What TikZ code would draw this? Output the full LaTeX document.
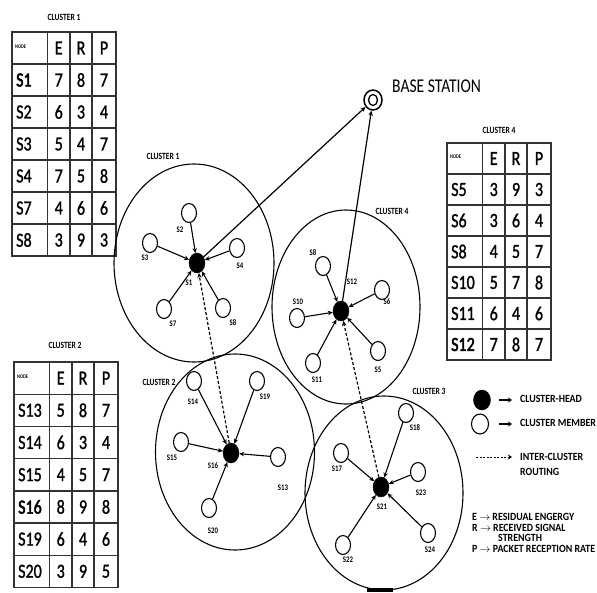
\documentclass[tikz,border=0pt]{standalone}
\usepackage{fontspec}
\setmainfont{Carlito}[FakeStretch=0.8]
\newfontfamily\legfont{Carlito}[FakeStretch=0.9]
\newfontfamily\cellfont{Carlito}[FakeStretch=0.8, FakeBold=1.2]
\newfontfamily\cellbold{Carlito}[FakeStretch=0.8, FakeBold=2.5]
\usetikzlibrary{shapes.geometric,arrows.meta}

\tikzset{
  tline/.style={line width=1.4pt, black!80},
  member/.style={ellipse, draw, line width=1.1pt, minimum width=15pt, minimum height=19pt, inner sep=0pt, fill=white},
  head/.style={ellipse, fill=black, draw, minimum width=16pt, minimum height=20pt, inner sep=0pt},
  lab/.style={font=\fontsize{8.5}{9}\selectfont\bfseries, inner sep=0pt},
  clab/.style={font=\fontsize{9.5}{10}\selectfont\bfseries, inner sep=0pt},
  cluster/.style={ellipse, draw, line width=1.1pt, inner sep=0pt},
  marr/.style={line width=1.1pt, -{Stealth[length=5pt,width=4.5pt]}},
  darr/.style={line width=1.2pt, dash pattern=on 3pt off 2pt, -{Stealth[length=5pt,width=4.5pt]}},
  cellL/.style={anchor=west, font=\cellfont\fontsize{20}{20}\selectfont, inner sep=0pt},
  cellC/.style={font=\cellfont\fontsize{20}{20}\selectfont, inner sep=0pt},
  hdr/.style={anchor=west, font=\fontsize{5.5}{6}\selectfont\bfseries, inner sep=0pt},
  legtext/.style={anchor=west, font=\legfont\fontsize{11}{11}\selectfont\bfseries, inner sep=0pt},
}

\newcommand{\mktable}[5]{%
 \begin{scope}[shift={(#2,#3)}]
  \foreach \k in {0,...,7} \draw[tline] (-0.7,{\k*#4}) -- (104.7,{\k*#4});
  \foreach \c in {0,35.5,58,80,104} \draw[tline] (\c,0) -- (\c,{7*#4});
  \node[hdr] (#1-h) at (3,{0.45*#4}) {NODE};
  \node[cellC] (#1-e) at (46.75,{0.5*#4}) {E};
  \node[cellC] (#1-r) at (69,{0.5*#4}) {R};
  \node[cellC] (#1-p) at (92,{0.5*#4}) {P};
  \foreach \va/\vb/\vc/\vd [count=\i] in {#5} {
    \node[cellL] (#1-n\i) at (4,{(\i+0.5)*#4}) {\va};
    \node[cellC] (#1-e\i) at (46.75,{(\i+0.5)*#4}) {\vb};
    \node[cellC] (#1-r\i) at (69,{(\i+0.5)*#4}) {\vc};
    \node[cellC] (#1-p\i) at (92,{(\i+0.5)*#4}) {\vd};
  }
 \end{scope}}

\begin{document}
\begin{tikzpicture}[x=1pt,y=-1pt]
\useasboundingbox (0,0) rectangle (597,592);

% ---- tables ----
\node[clab] (t1title) at (64,17) {CLUSTER 1};
\mktable{ta}{12}{32}{32}{{\cellbold S1}/7/8/7, S2/6/3/4, S3/5/4/7, S4/7/5/8, S7/4/6/6, S8/3/9/3}
\node[clab] (t4title) at (499,130) {CLUSTER 4};
\mktable{tb}{447}{143}{31}{S5/3/9/3, S6/3/6/4, S8/4/5/7, S10/5/7/8, S11/6/4/6, {\cellbold S12}/7/8/7}
\node[clab] (t2title) at (65,345) {CLUSTER 2};
\mktable{tc}{14}{362}{32.2}{S13/5/8/7, S14/6/3/4, S15/4/5/7, {\cellbold S16}/8/9/8, S19/6/4/6, S20/3/9/5}

% ---- clusters ----
\node[cluster, minimum width=160pt, minimum height=198pt] (c1) at (194,263) {};
\node[cluster, minimum width=148pt, minimum height=194pt] (c4) at (346,307) {};
\node[cluster, minimum width=159pt, minimum height=196pt] (c2) at (235,452) {};
\node[cluster, minimum width=158pt, minimum height=194pt] (c3) at (384,493) {};
\node[clab] (c1l) at (163,156) {CLUSTER 1};
\node[clab] (c4l) at (392,211) {CLUSTER 4};
\node[clab] (c2l) at (159,382) {CLUSTER 2};
\node[clab] (c3l) at (429,391) {CLUSTER 3};

% ---- base station ----
\node[ellipse, draw, line width=1.5pt, minimum width=18pt, minimum height=20pt, inner sep=0pt] (bs) at (373,100) {};
\node[ellipse, draw, line width=1.3pt, minimum width=9pt, minimum height=11pt, inner sep=0pt] (bsin) at (373,100) {};
\node[anchor=west, font=\fontsize{19.5}{20}\selectfont, inner sep=0pt] (bstext) at (392,86) {BASE STATION};

% ---- cluster 1 ----
\node[head] (s1) at (197,263) {};
\node[member] (s2) at (189,213) {};
\node[member] (s3) at (150,243) {};
\node[member] (s4) at (237,248) {};
\node[member] (s7) at (164,309) {};
\node[member] (s8) at (223,308) {};
\node[lab] (s1l) at (189,283) {S1};
\node[lab] (s2l) at (180,230) {S2};
\node[lab] (s3l) at (145,258) {S3};
\node[lab] (s4l) at (240,266) {S4};
\node[lab] (s7l) at (173,324) {S7};
\node[lab] (s8l) at (233,323) {S8};
\foreach \m in {s2,s3,s4,s7,s8} \draw[marr] (\m) -- (s1);

% ---- cluster 4 ----
\node[head] (s12) at (341,311) {};
\node[member] (c4s8) at (323,266) {};
\node[member] (s6) at (382,290) {};
\node[member] (s10) at (297,318) {};
\node[member] (s11) at (313,363) {};
\node[member] (s5) at (378,351) {};
\node[lab] (s12l) at (352,282) {S12};
\node[lab] (c4s8l) at (313,253) {S8};
\node[lab] (s6l) at (387,302) {S6};
\node[lab] (s10l) at (298,302) {S10};
\node[lab] (s11l) at (317,380) {S11};
\node[lab] (s5l) at (378,370) {S5};
\foreach \m in {c4s8,s6,s10,s11,s5} \draw[marr] (\m) -- (s12);

% ---- cluster 2 ----
\node[head] (s16) at (231,453) {};
\node[member] (s14) at (194,381) {};
\node[member] (s19) at (257,381) {};
\node[member] (s15) at (181,442) {};
\node[member] (s13) at (278,457) {};
\node[member] (s20) at (209,508) {};
\node[lab] (s16l) at (213,466) {S16};
\node[lab] (s14l) at (193,402) {S14};
\node[lab] (s19l) at (265,397) {S19};
\node[lab] (s15l) at (172,458) {S15};
\node[lab] (s13l) at (283,488) {S13};
\node[lab] (s20l) at (213,531) {S20};
\foreach \m in {s14,s19,s15,s13,s20} \draw[marr] (\m) -- (s16);

% ---- cluster 3 ----
\node[head] (s21) at (381,487) {};
\node[member] (s18) at (406,413) {};
\node[member] (s17) at (341,453) {};
\node[member] (s23) at (418,472) {};
\node[member] (s22) at (343,545) {};
\node[member] (s24) at (428,533) {};
\node[lab] (s21l) at (382,507) {S21};
\node[lab] (s18l) at (415,428) {S18};
\node[lab] (s17l) at (337,469) {S17};
\node[lab] (s23l) at (421,493) {S23};
\node[lab] (s22l) at (348,560) {S22};
\node[lab] (s24l) at (430,550) {S24};
\foreach \m in {s18,s17,s23,s22,s24} \draw[marr] (\m) -- (s21);

% ---- routing ----
\draw[darr] (s16) -- (s1);
\draw[darr] (s21) -- (s12);
\draw[marr, line width=1.2pt] (s1) -- (bs);
\draw[marr, line width=1.2pt] (s12) -- (bs);

% ---- legend ----
\node[head, minimum width=17pt, minimum height=20pt] (lgh) at (482,400) {};
\coordinate (lgh1) at (499,400); \coordinate (lgh2) at (512,400);
\draw[line width=1.2pt, -{Stealth[length=4pt,width=5pt]}] (lgh1) -- (lgh2);
\node[legtext] (lght) at (520,399) {CLUSTER-HEAD};
\node[member, minimum width=17pt, minimum height=20pt] (lgm) at (480,424) {};
\coordinate (lgm1) at (499,424); \coordinate (lgm2) at (512,424);
\draw[line width=1.2pt, -{Stealth[length=4pt,width=5pt]}] (lgm1) -- (lgm2);
\node[legtext] (lgmt) at (520,423) {CLUSTER MEMBER};
\coordinate (lgd1) at (476,457); \coordinate (lgd2) at (512,457);
\draw[line width=1pt, dash pattern=on 2pt off 1.5pt, -{Stealth[length=4pt,width=5pt]}] (lgd1) -- (lgd2);
\node[legtext] (lgdt1) at (520,457) {INTER-CLUSTER};
\node[legtext] (lgdt2) at (520,472) {ROUTING};
\node[legtext] (lge) at (472,517) {E $\rightarrow$ RESIDUAL ENGERGY};
\node[legtext] (lgr) at (472,527.5) {R $\rightarrow$ RECEIVED SIGNAL};
\node[legtext] (lgs) at (498,538) {STRENGTH};
\node[legtext] (lgp) at (472,548.5) {P $\rightarrow$ PACKET RECEPTION RATE};

% bottom mark
\fill (367,588) rectangle (393,592);
\end{tikzpicture}
\end{document}
